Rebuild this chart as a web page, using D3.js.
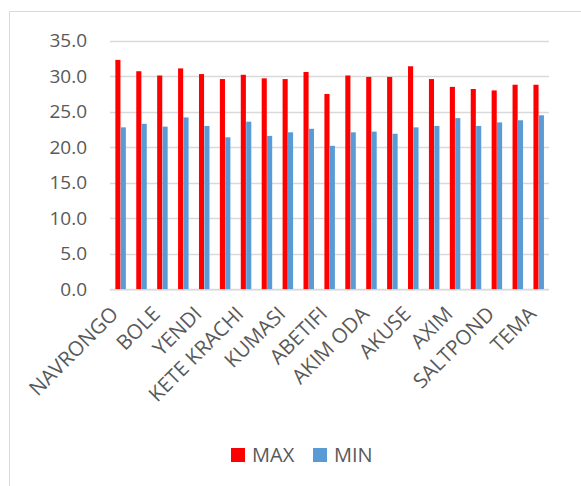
<!DOCTYPE html>
<html>
<head>
<meta charset="utf-8">
<script src="https://cdn.jsdelivr.net/npm/d3@7"></script>
<style>
  body { margin: 0; background: #fff; }
  svg text { font-family: "Open Sans", sans-serif; fill: #595959; }
</style>
</head>
<body>
<svg class="chart" width="581" height="486"></svg>
<script>
// stations (every other label is hidden by the axis, like excel does)
var stations = ['NAVRONGO', 'WA', 'BOLE', 'TAMALE', 'YENDI', 'SALAGA', 'KETE KRACHI', 'SUNYANI',
    'KUMASI', 'WENCHI', 'ABETIFI', 'KOFORIDUA', 'AKIM ODA', 'HO', 'AKUSE', 'TAKORADI',
    'AXIM', 'CAPE COAST', 'SALTPOND', 'ACCRA', 'TEMA']
var maxTemp = [32.3, 30.7, 30.1, 31.1, 30.3, 29.6, 30.2, 29.7, 29.6, 30.6, 27.5,
    30.1, 29.9, 29.9, 31.4, 29.6, 28.5, 28.2, 28.0, 28.8, 28.8]
var minTemp = [22.8, 23.3, 22.9, 24.2, 23.0, 21.4, 23.6, 21.6, 22.1, 22.6, 20.2,
    22.1, 22.2, 21.9, 22.8, 23.0, 24.1, 23.0, 23.5, 23.8, 24.5]
var yTicks = [0, 5, 10, 15, 20, 25, 30, 35]
var seriesNames = ['MAX', 'MIN']
var colors = ['#ff0000', '#5b9bd5']

var svg = d3.select('.chart')

// frame of the chart box (only top and left show)
svg.append('path')
    .attr('d', 'M9.5,486 V11.5 H581')
    .attr('fill', 'none')
    .attr('stroke', '#d9d9d9')

var plotLeft = 110, plotRight = 549, plotTop = 40.7, plotBottom = 289.3

var xScale = d3.scaleBand().domain(stations).range([plotLeft, plotRight])
var yScale = d3.scaleLinear().domain([0, 35]).range([plotBottom, plotTop])
var barW = 5.1

var chartG = svg.append('g')

// gridlines
chartG.selectAll('.grid').data(yTicks)
    .enter()
    .append('line')
    .attr('class', 'grid')
    .attr('x1', plotLeft)
    .attr('x2', plotRight)
    .attr('y1', d => Math.round(yScale(d)) + 0.5)
    .attr('y2', d => Math.round(yScale(d)) + 0.5)
    .attr('stroke', '#d9d9d9')
    .attr('stroke-width', 1.3)

// y labels
chartG.selectAll('.ylabel').data(yTicks)
    .enter()
    .append('text')
    .attr('class', 'ylabel')
    .attr('x', 87)
    .attr('y', d => yScale(d))
    .attr('dy', '0.35em')
    .attr('text-anchor', 'end')
    .style('font-size', '19px')
    .text(d => d.toFixed(1))

var groups = chartG.selectAll('.bar').data(stations)
    .enter()
    .append('g')
    .attr('class', 'bar')
    .attr('transform', d => 'translate(' + (xScale(d) + xScale.bandwidth() / 2) + ', 0)')

groups.append('rect')
    .attr('x', -barW)
    .attr('width', barW)
    .attr('y', (d, i) => yScale(maxTemp[i]))
    .attr('height', (d, i) => plotBottom - yScale(maxTemp[i]))
    .style('fill', colors[0])

groups.append('rect')
    .attr('x', 0.3)
    .attr('width', barW)
    .attr('y', (d, i) => yScale(minTemp[i]))
    .attr('height', (d, i) => plotBottom - yScale(minTemp[i]))
    .style('fill', colors[1])

// x axis line drawn over the bars
chartG.append('line')
    .attr('x1', plotLeft).attr('x2', plotRight)
    .attr('y1', plotBottom + 0.5).attr('y2', plotBottom + 0.5)
    .attr('stroke', '#d9d9d9')
    .attr('stroke-width', 1.3)

// category labels, every other one
chartG.selectAll('.xlabel').data(stations.filter((d, i) => i % 2 == 0))
    .enter()
    .append('text')
    .attr('class', 'xlabel')
    .attr('text-anchor', 'end')
    .style('font-size', '20.5px')
    .attr('transform', d => 'translate(' + (xScale(d) + xScale.bandwidth() / 2 - 1) + ',' + (plotBottom + 26) + ') rotate(-45)')
    .text(d => d)

// legend
var legend = svg.append('g').attr('class', 'legend')
var legendX = [231, 313]
legend.selectAll('.legendbox').data(seriesNames)
    .enter()
    .append('rect')
    .attr('class', 'legendbox')
    .attr('x', (d, i) => legendX[i])
    .attr('y', 448)
    .attr('width', 14)
    .attr('height', 14)
    .style('fill', (d, i) => colors[i])

legend.selectAll('.legendlabel').data(seriesNames)
    .enter()
    .append('text')
    .attr('class', 'legendlabel')
    .attr('x', (d, i) => legendX[i] + 21)
    .attr('y', 462)
    .style('font-size', '20px')
    .text(d => d)
</script>
</body>
</html>
